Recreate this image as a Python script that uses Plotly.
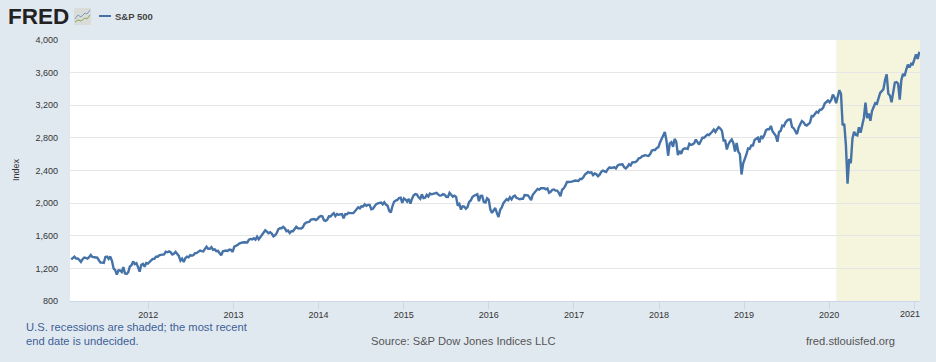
import pandas as pd
import plotly.graph_objects as go

W, H = 936, 362
FONT = "Liberation Sans"

values_2011 = [1311,1329,1343,1320,1321,1304,1279,1313,1332,1328,1319,1337,1364,1340,1338,1333,1331,1300,1271,1271,1268,1339,1344,1316,1345,1292,1199,1179,1124,1177,1174,1155,1216,1136,1131,1155,1224,1238,1285,1253,1264,1216,1159,1244,1255,1220,1265,1258]
values_2012 = [1278,1289,1315,1316,1344,1343,1361,1366,1370,1371,1404,1397,1408,1398,1370,1379,1403,1369,1353,1295,1318,1278,1325,1343,1335,1362,1355,1363,1386,1390,1406,1418,1411,1407,1438,1465,1441,1440,1461,1428,1433,1411,1414,1380,1359,1409,1416,1418,1413,1430,1426,1402]
values_2013 = [1466,1472,1486,1503,1513,1518,1520,1516,1518,1551,1561,1556,1569,1553,1588,1555,1583,1614,1634,1667,1650,1631,1643,1627,1593,1606,1631,1680,1692,1692,1709,1691,1656,1664,1633,1656,1655,1688,1710,1692,1691,1690,1703,1745,1760,1762,1771,1798,1805,1806,1792,1805]
values_2014 = [1831,1842,1838,1790,1782,1797,1839,1836,1859,1878,1841,1866,1857,1865,1865,1815,1864,1863,1881,1878,1878,1877,1900,1924,1949,1936,1962,1960,1985,1967,1978,1978,1925,1931,1955,1988,1997,2003,2007,1985,2011,1982,1968,1906,1886,1964,2018,2032,2039,2063,2067,2002]
values_2015 = [2058,2044,2019,2051,1995,2055,2097,2110,2104,2071,2053,2108,2061,2066,2102,2081,2117,2108,2116,2122,2126,2107,2092,2094,2110,2102,2077,2076,2126,2103,2078,2091,2077,1971,1989,1921,1961,1958,1931,1951,2014,2033,2075,2090,2100,2109,2023,2089,2091,2012,2006,2060]
values_2016 = [2044,1922,1880,1907,1940,1880,1829,1917,1948,1999,2022,2050,2035,2072,2047,2081,2092,2065,2057,2047,2053,2052,2099,2099,2096,2071,2037,2103,2130,2162,2175,2166,2182,2184,2183,2169,2180,2128,2139,2164,2168,2153,2153,2126,2085,2164,2182,2213,2260,2259,2258,2263]
values_2017 = [2277,2275,2271,2295,2295,2316,2351,2367,2383,2373,2378,2344,2363,2355,2329,2349,2384,2399,2391,2382,2416,2439,2431,2438,2439,2425,2459,2473,2472,2477,2441,2425,2444,2477,2461,2500,2502,2503,2519,2549,2553,2575,2581,2588,2582,2579,2602,2642,2652,2652,2676,2683]
values_2018 = [2743,2786,2810,2872,2762,2581,2732,2747,2691,2787,2752,2588,2640,2605,2656,2670,2670,2663,2728,2713,2721,2735,2779,2754,2718,2759,2801,2801,2818,2840,2833,2850,2875,2902,2872,2905,2930,2914,2886,2767,2768,2658,2723,2756,2781,2736,2633,2737,2633,2600,2351,2486]
values_2019 = [2532,2596,2671,2665,2707,2707,2775,2792,2803,2743,2822,2800,2834,2893,2907,2905,2946,2881,2860,2826,2752,2873,2886,2950,2942,2990,3014,3026,3025,2932,2918,2889,2847,2926,2979,3007,2992,2961,2952,2970,2987,3067,3066,3093,3120,3110,3145,3146,3169,3221,3240,3258]
values_2020 = [3235,3265,3330,3295,3225,3327,3386,3337,2954,2972,2711,2237,2541,2489,2790,2875,2837,2831,2930,2864,2955,3044,3232,3041,3098,3009,3130,3185,3225,3216,3271,3351,3373,3397,3508,3580,3341,3319,3237,3348,3477,3484,3465,3270,3510,3585,3558,3638,3699,3663,3709,3703,3756]
values_2021 = [3824,3768,3855]

year_starts = ["2011-02-04","2012-01-06","2013-01-04","2014-01-03","2015-01-02","2016-01-01",
               "2017-01-06","2018-01-05","2019-01-04","2020-01-03","2021-01-08"]
series_by_year = [values_2011,values_2012,values_2013,values_2014,values_2015,values_2016,
                  values_2017,values_2018,values_2019,values_2020,values_2021]

dates, values = [], []
for start, vals in zip(year_starts, series_by_year):
    dates.extend(pd.date_range(start, periods=len(vals), freq="7D"))
    values.extend(vals)

y_ticks = [800,1200,1600,2000,2400,2800,3200,3600,4000]
x_tick_years = list(range(2012, 2022))
x_range = ["2011-01-30", "2021-01-25"]
recession = ["2020-02-01", "2021-01-25"]

BG = "#E1E9F0"
LINE = "#4572A7"

def px(x): return (x - 70) / 850
def py(y): return 1 - (y - 40) / 261

def note(text, x, y, size, color, anchor="left", bold=False):
    return dict(text=f"<b>{text}</b>" if bold else text, x=px(x), y=py(y), xref="paper", yref="paper",
                xanchor=anchor, yanchor="middle", showarrow=False, borderpad=0,
                font=dict(family=FONT, size=size, color=color))

def pix_path(points):
    return "M " + " L ".join(f"{px(a):.5f},{py(b):.5f}" for a, b in points)

fig = go.Figure(go.Scatter(x=dates, y=values, mode="lines", name="S&P 500",
                           line=dict(color=LINE, width=2.4), hoverinfo="x+y"))

shapes = [
    dict(type="rect", xref="x", yref="paper", x0=recession[0], x1=recession[1], y0=0, y1=1,
         fillcolor="#F5F4DC", line_width=0, layer="below"),
    dict(type="line", xref="paper", yref="paper", x0=px(99), x1=px(111), y0=py(16), y1=py(16),
         line=dict(color=LINE, width=2)),
    dict(type="rect", xref="paper", yref="paper", x0=px(74), x1=px(91), y0=py(25), y1=py(8),
         fillcolor="#D9DCD8", line_width=0),
    dict(type="path", xref="paper", yref="paper",
         path=pix_path([(75,19),(78,15),(81,17),(85,13),(87,14),(90,10)]),
         line=dict(color="#7F9BBD", width=1)),
    dict(type="path", xref="paper", yref="paper",
         path=pix_path([(75,22),(78,20),(81,21),(85,18),(87,19),(90,15)]),
         line=dict(color="#8FA858", width=1)),
]

annotations = [
    note("FRED", 7, 17, 22.5, "#222222", bold=True),
    note("S&amp;P 500", 114, 16, 9.5, "#444444", bold=True),
    note("U.S. recessions are shaded; the most recent", 25, 327, 11.2, "#3E5F96"),
    note("end date is undecided.", 25, 341, 11.2, "#3E5F96"),
    note("Source: S&amp;P Dow Jones Indices LLC", 370, 341, 11.2, "#555555"),
    note("fred.stlouisfed.org", 805, 341, 11.2, "#555555"),
    note("2021", 909.5, 314, 9, "#333333", anchor="center"),
    dict(text="Index", x=px(16), y=py(170), xref="paper", yref="paper", textangle=-90,
         xanchor="center", yanchor="middle", showarrow=False,
         font=dict(family=FONT, size=9, color="#333333")),
]

fig.update_layout(
    width=W, height=H, autosize=False,
    margin=dict(l=70, r=16, t=40, b=61, pad=0),
    paper_bgcolor=BG, plot_bgcolor="#FFFFFF",
    showlegend=False,
    font=dict(family=FONT, size=9, color="#333333"),
    shapes=shapes, annotations=annotations,
    xaxis=dict(type="date", range=x_range,
               tickvals=[f"{y}-01-01" for y in x_tick_years],
               ticktext=[str(y) if y != 2021 else " " for y in x_tick_years],
               ticks="outside", ticklen=7, tickcolor="#CCD6EB", tickwidth=1,
               ticklabelstandoff=-2,
               showline=True, linecolor="#CCD6EB", linewidth=1,
               showgrid=False, zeroline=False),
    yaxis=dict(range=[800, 4000], tickvals=y_ticks, ticktext=[f"{v:,}" for v in y_ticks],
               ticks="", ticklabelstandoff=11, showgrid=True, gridcolor="#E6E6E6", gridwidth=1,
               zeroline=False, showline=False),
)

fig.write_html("out.html", config={"displayModeBar": False},
               post_script="document.body.style.margin='0';document.body.style.overflow='hidden';")
